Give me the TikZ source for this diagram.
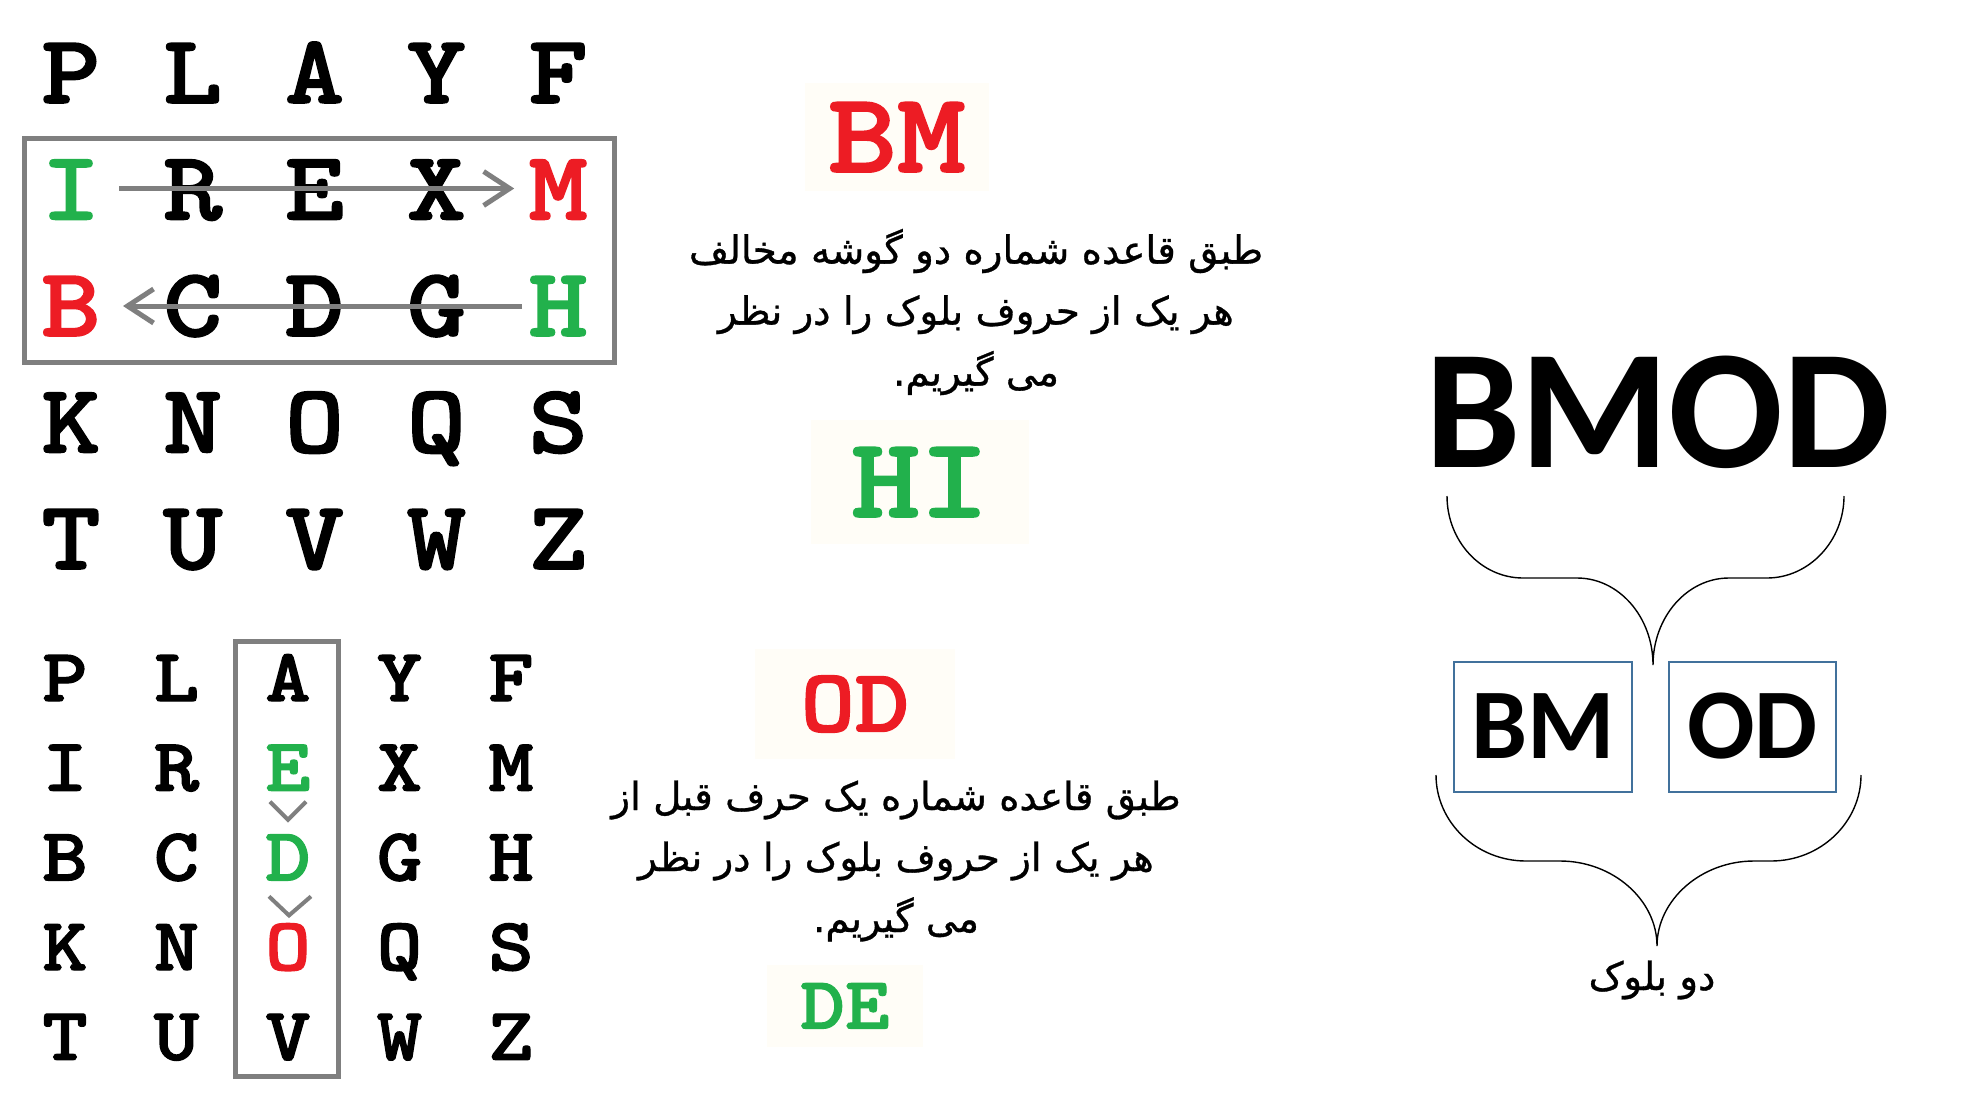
\documentclass[tikz,border=0pt]{standalone}
\usepackage{fontspec}
\usetikzlibrary{arrows.meta,calc}
\TeXXeTstate=1
\newfontfamily\arabicfont[Script=Arabic,FakeBold=0.8]{DejaVu Sans}
\newfontfamily\calibrifont{Carlito}
\newfontfamily\gridfont{lmmonolt10-bold.otf}[FakeBold=1.6,FakeStretch=1.15]
\definecolor{mred}{RGB}{237,28,36}
\definecolor{mgreen}{RGB}{34,177,76}
\definecolor{mgray}{RGB}{127,127,127}
\definecolor{mblue}{RGB}{65,113,156}
\definecolor{cream}{RGB}{255,253,247}

\tikzset{
  topletter/.style={font=\gridfont\fontsize{49pt}{49pt}\selectfont,
    inner sep=0pt, text height=30pt, text depth=0pt},
  botletter/.style={font=\gridfont\fontsize{37.6pt}{38pt}\selectfont,
    inner sep=0pt, text height=23pt, text depth=0pt},
  top I/.style={text=mgreen}, top M/.style={text=mred},
  top B/.style={text=mred},   top H/.style={text=mgreen},
  bot E/.style={text=mgreen}, bot D/.style={text=mgreen}, bot O/.style={text=mred}
}

\begin{document}
\begin{tikzpicture}[x=0.5pt, y=-0.5pt]
    \tikzstyle{result}=[fill=cream, inner sep=0pt, text depth=0pt]
    \tikzstyle{rowarrow}=[draw=mgray, line width=2.5pt, -{Straight Barb[length=13pt,width=17pt]}]
    \tikzstyle{chev}=[draw=mgray, line width=2pt]
    \tikzstyle{hlbox}=[draw=mgray, line width=2.5pt]
    \tikzstyle{blockbox}=[draw=mblue, line width=1pt, inner sep=0pt, minimum height=65pt,
        text height=31.5pt, text depth=0pt, font=\calibrifont\bfseries\fontsize{50pt}{50pt}\selectfont]
    \tikzstyle{brace}=[draw=black, line width=0.7pt]
    \tikzstyle{persian}=[align=center, inner sep=0pt, font=\arabicfont\fontsize{19.4pt}{30.5pt}\selectfont]

    \useasboundingbox[fill=white] (0,0) rectangle (1985,1092);

    \foreach \r/\row in {0/{P,L,A,Y,F},1/{I,R,E,X,M},2/{B,C,D,G,H},3/{K,N,O,Q,S},4/{T,U,V,W,Z}}
        \foreach \l [count=\c from 0] in \row
            \node[topletter, top \l/.try] (T_\l) at (71+121.8*\c, 73+116.5*\r) {\l};

    \foreach \r/\row in {0/{P,L,A,Y,F},1/{I,R,E,X,M},2/{B,C,D,G,H},3/{K,N,O,Q,S},4/{T,U,V,W,Z}}
        \foreach \l [count=\c from 0] in \row
            \node[botletter, bot \l/.try] (B_\l) at (65+111.5*\c, 678+89.7*\r) {\l};

    \draw[hlbox] (24.5,138.5) rectangle (614,362);
    \draw[hlbox] (235.5,641.5) rectangle (338.5,1076.5);

    \draw[rowarrow] ($(T_I)+(48,-1)$) -- ($(T_M)+(-44,-1)$);
    \draw[rowarrow] ($(T_H)+(-36,0)$) -- ($(T_B)+(52,0)$);
    \draw[chev] ($(B_E)+(-18,34)$) -- ($(B_E)+(0,52)$) -- ($(B_E)+(18,34)$);
    \draw[chev] ($(B_D)+(-19,39)$) -- ($(B_D)+(1,58)$) -- ($(B_D)+(23,39)$);

    \node[result, text=mred, minimum width=92pt, minimum height=54pt, text height=35pt,
        font=\gridfont\fontsize{57pt}{57pt}\selectfont] (BM) at (897,137) {BM};
    \node[result, text=mgreen, minimum width=109pt, minimum height=62pt, text height=35pt,
        font=\gridfont\fontsize{57pt}{57pt}\selectfont] (HI) at (920,482) {HI};
    \node[result, text=mred, minimum width=100pt, minimum height=55pt, text height=27.5pt,
        font=\gridfont\fontsize{45pt}{45pt}\selectfont] (OD) at (855,704) {OD};
    \node[result, text=mgreen, minimum width=78pt, minimum height=41pt, text height=22.5pt,
        font=\gridfont\fontsize{37pt}{37pt}\selectfont] (DE) at (845,1006) {DE};

    \node[persian] (rule_2) at (976,312)
        {\beginR طبق قاعده شماره دو گوشه مخالف\endR\\
         \beginR هر یک از حروف بلوک را در نظر\endR\\
         \beginR می گیریم.\endR};
    \node[persian] (rule_1) at (896,861)
        {\beginR طبق قاعده شماره یک حرف قبل از\endR\\
         \beginR هر یک از حروف بلوک را در نظر\endR\\
         \beginR می گیریم.\endR};

    \node[inner sep=0pt, text height=54pt, text depth=0pt,
        font=\calibrifont\bfseries\fontsize{85pt}{85pt}\selectfont] (BMOD) at (1658,413) {BMOD};
    \node[blockbox, minimum width=89pt] (BM_block) at (1543,727) {BM};
    \node[blockbox, minimum width=83.5pt] (OD_block) at (1752.5,727) {OD};
    \node[persian] (two_blocks) at (1652,980) {\beginR دو بلوک\endR};

    \draw[brace] (1447,496) .. controls (1447,541) and (1481,578) .. (1523,578) -- (1577,578)
        .. controls (1619,578) and (1653,617) .. (1653,665)
        .. controls (1653,617) and (1687,578) .. (1729,578) -- (1767,578)
        .. controls (1809,578) and (1844,541) .. (1844,496);
    \draw[brace] (1436,775) .. controls (1436,822) and (1476,861) .. (1526,861) -- (1560,861)
        .. controls (1613,861) and (1657,900) .. (1657,946)
        .. controls (1657,900) and (1701,861) .. (1754,861) -- (1771,861)
        .. controls (1821,861) and (1861,822) .. (1861,775);
\end{tikzpicture}
\end{document}
